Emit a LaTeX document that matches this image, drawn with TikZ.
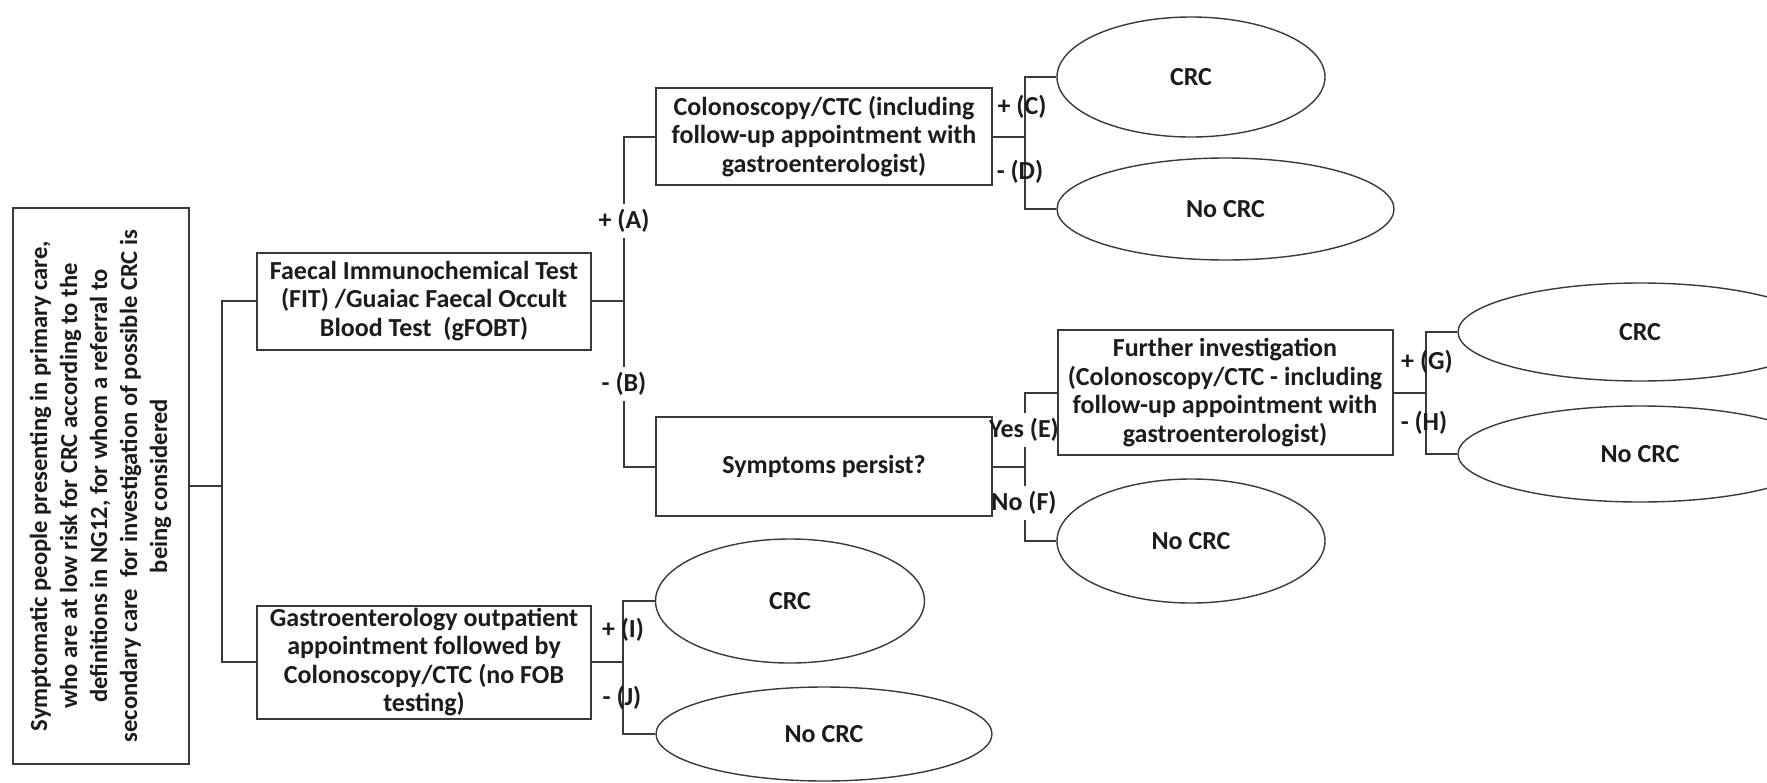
\documentclass[tikz,border=0pt]{standalone}
\usepackage{fontspec}
\usepackage{graphicx}
\setmainfont{Carlito}
\usetikzlibrary{shapes.geometric}
\pgfdeclarelayer{bg}
\pgfdeclarelayer{mid}
\pgfsetlayers{bg,mid,main}
\definecolor{ink}{HTML}{1C1C1C}
\definecolor{linec}{HTML}{3A3A3A}
\newcommand{\txtfont}{\fontsize{13}{14.2}\selectfont\bfseries}
\tikzset{
  box/.style={draw=linec, line width=1pt, fill=white, align=center, inner sep=0pt, text=ink, font=\txtfont},
  ell/.style={ellipse, draw=linec, line width=0.7pt, fill=white, inner sep=0pt, text=ink, font=\txtfont},
  conn/.style={draw=linec, line width=1pt},
  lab/.style={text=ink, font=\txtfont, inner sep=0.5pt},
}
\begin{document}
\begin{tikzpicture}[x=0.5pt,y=-0.5pt]
\useasboundingbox (0,0) rectangle (1767,782);
\begin{pgfonlayer}{bg}
\fill[white] (0,0) rectangle (1767,782);
\end{pgfonlayer}
\clip (0,0) rectangle (1767,782);

% boxes
\node[box, minimum width=88pt, minimum height=278pt] (L) at (101,486)
  {\rotatebox{90}{\fontsize{12.3}{15}\selectfont\bfseries\begin{tabular}{@{}c@{}}Symptomatic people presenting in primary care,\\ who are at low risk for CRC according to the\\ definitions in NG12, for whom a referral to\\ secondary care\ \ for investigation of possible CRC is\\ being considered\end{tabular}}};
\node[box, minimum width=167pt, minimum height=48.5pt] (FIT) at (424,301)
  {Faecal Immunochemical Test\\(FIT) /Guaiac Faecal Occult\\Blood Test\ \ (gFOBT)};
\node[box, minimum width=167pt, minimum height=56.5pt] (GA) at (424,662)
  {Gastroenterology outpatient\\appointment followed by\\Colonoscopy/CTC (no FOB\\testing)};
\node[box, minimum width=168pt, minimum height=48.5pt] (CO) at (824,136.5)
  {Colonoscopy/CTC (including\\follow-up appointment with\\gastroenterologist)};
\node[box, minimum width=168pt, minimum height=49.5pt] (SY) at (824,466.5)
  {Symptoms persist?};
\node[box, minimum width=167.5pt, minimum height=62.5pt] (FU) at (1225,392.5)
  {Further investigation\\(Colonoscopy/CTC - including\\follow-up appointment with\\gastroenterologist)};

% ellipses
\node[ell, minimum width=134pt, minimum height=60pt] (eC) at (1191,77) {CRC};
\node[ell, minimum width=168.5pt, minimum height=51pt] (eD) at (1225.5,209) {No CRC};
\node[ell, minimum width=134pt, minimum height=62pt] (eF) at (1191,541) {No CRC};
\node[ell, minimum width=182pt, minimum height=49pt] (eG) at (1640,332) {CRC};
\node[ell, minimum width=182pt, minimum height=48pt] (eH) at (1640,454) {No CRC};
\node[ell, minimum width=134.5pt, minimum height=62pt] (eI) at (790,601) {CRC};
\node[ell, minimum width=168pt, minimum height=47pt] (eJ) at (824,734) {No CRC};

% junctions
\coordinate (j0) at (222,486);
\coordinate (j1) at (624,301);
\coordinate (j2) at (1025,136.5);
\coordinate (j3) at (1025,466.5);
\coordinate (j4) at (1426,392.5);
\coordinate (j5) at (623,662);

\begin{pgfonlayer}{bg}
\draw[conn] (L.east) -- (j0);
\draw[conn] (FIT.west) -| (j0) |- (GA.west);
\draw[conn] (FIT.east) -- (j1);
\draw[conn] (CO.west) -| (j1) |- (SY.west);
\draw[conn] (CO.east) -- (j2);
\draw[conn] (eC.west) -| (j2) |- (eD.west);
\draw[conn] (SY.east) -- (j3);
\draw[conn] (FU.west) -| (j3) |- (eF.west);
\draw[conn] (FU.east) -- (j4);
\draw[conn] (eG.west) -| (j4) |- (eH.west);
\draw[conn] (GA.east) -- (j5);
\draw[conn] (eI.west) -| (j5) |- (eJ.west);
\end{pgfonlayer}

% labels
\node[lab] (lA) at (624,221) {+ (A)};
\node[lab] (lB) at (624,384) {- (B)};
\node[lab] (lE) at (1024,430) {Yes (E)};
\node[lab] (lF) at (1024,503) {No (F)};
\node[lab] (lC) at (1022,107) {+ (C)};
\node[lab] (lD) at (1020,172) {- (D)};
\node[lab] (lG) at (1427,362) {+ (G)};
\node[lab] (lH) at (1424,423) {- (H)};
\node[lab] (lI) at (623,630) {+ (I)};
\node[lab] (lJ) at (622,698) {- (J)};
% gaps in the connector lines behind some labels
\begin{pgfonlayer}{mid}
\foreach \n in {lA,lB,lE,lF}
  \fill[white] ([yshift=-2pt]\n.south west) rectangle ([yshift=2pt]\n.north east);
\end{pgfonlayer}
\end{tikzpicture}
\end{document}
